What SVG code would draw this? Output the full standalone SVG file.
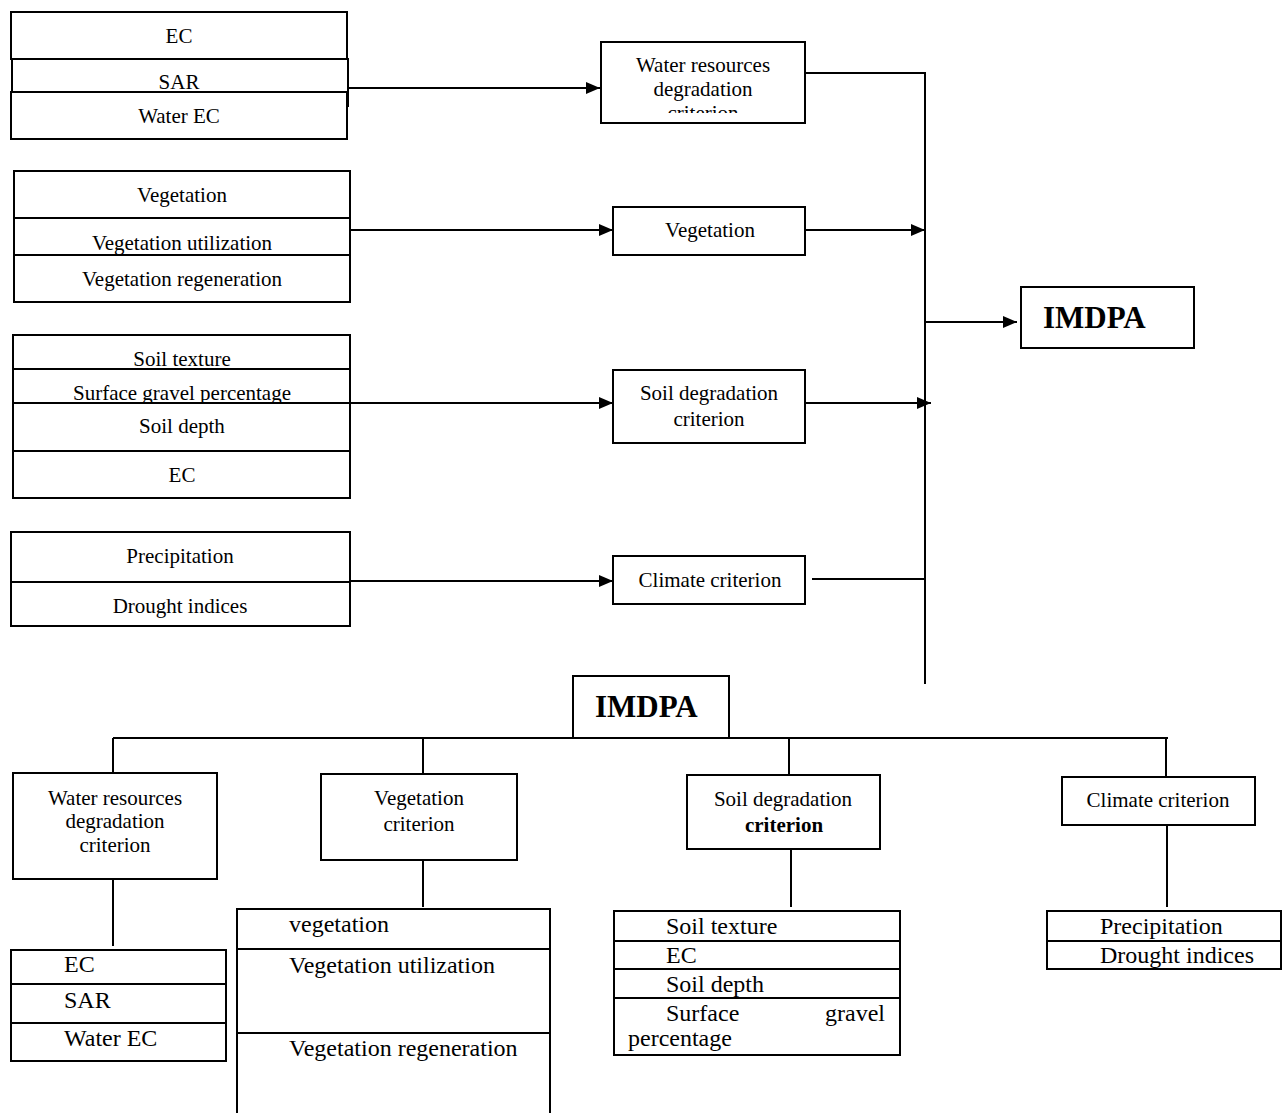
<svg xmlns="http://www.w3.org/2000/svg" width="1283" height="1113" viewBox="0 0 1283 1113">
<style>
text{font-family:"Liberation Serif","Times New Roman",serif;font-size:21px;fill:#000}
.c{text-anchor:middle}
.s{font-size:24px}
.b{font-weight:bold;font-size:31px}
rect{fill:#fff;stroke:#000;stroke-width:2}
.ln{fill:none;stroke:#000;stroke-width:2}
</style>
<defs>
<marker id="ah" markerUnits="userSpaceOnUse" markerWidth="14" markerHeight="14" viewBox="0 0 14 14" refX="14" refY="7" orient="auto">
<path d="M0,1 L14,7 L0,13 Z" fill="#000"/>
</marker>
<clipPath id="clipW"><rect x="601" y="42" width="204" height="71"/></clipPath>
</defs>

<g id="connectors">
<line class="ln" x1="348" y1="88" x2="600" y2="88" marker-end="url(#ah)"/>
<line class="ln" x1="350" y1="230" x2="613" y2="230" marker-end="url(#ah)"/>
<line class="ln" x1="350" y1="403" x2="613" y2="403" marker-end="url(#ah)"/>
<line class="ln" x1="350" y1="581" x2="613" y2="581" marker-end="url(#ah)"/>
<polyline class="ln" points="805,73 925,73 925,684"/>
<line class="ln" x1="805" y1="230" x2="925" y2="230" marker-end="url(#ah)"/>
<line class="ln" x1="806" y1="403" x2="931" y2="403" marker-end="url(#ah)"/>
<line class="ln" x1="812" y1="579" x2="925" y2="579"/>
<line class="ln" x1="925" y1="322" x2="1017" y2="322" marker-end="url(#ah)"/>
<line class="ln" x1="113" y1="738" x2="1168" y2="738"/>
<line class="ln" x1="113" y1="738" x2="113" y2="773"/>
<line class="ln" x1="423" y1="738" x2="423" y2="774"/>
<line class="ln" x1="789" y1="738" x2="789" y2="775"/>
<line class="ln" x1="1166" y1="738" x2="1166" y2="777"/>
<line class="ln" x1="113" y1="879" x2="113" y2="946"/>
<line class="ln" x1="423" y1="860" x2="423" y2="907"/>
<line class="ln" x1="791" y1="849" x2="791" y2="907"/>
<line class="ln" x1="1167" y1="825" x2="1167" y2="907"/>
</g>

<g id="water-indicators">
<rect x="11" y="12" width="336" height="47"/>
<text class="c" x="179" y="43">EC</text>
<rect x="12" y="59" width="336" height="47"/>
<text class="c" x="179" y="89">SAR</text>
<rect x="11" y="92" width="336" height="47"/>
<text class="c" x="179" y="123">Water EC</text>
</g>

<g id="vegetation-indicators">
<rect x="14" y="171" width="336" height="47"/>
<text class="c" x="182" y="202">Vegetation</text>
<rect x="14" y="218" width="336" height="47"/>
<text class="c" x="182" y="250">Vegetation utilization</text>
<rect x="14" y="255" width="336" height="47"/>
<text class="c" x="182" y="286">Vegetation regeneration</text>
</g>

<g id="soil-indicators">
<rect x="13" y="335" width="337" height="47"/>
<text class="c" x="182" y="366">Soil texture</text>
<rect x="13" y="369" width="337" height="47"/>
<text class="c" x="182" y="400">Surface gravel percentage</text>
<rect x="13" y="403" width="337" height="48"/>
<text class="c" x="182" y="433">Soil depth</text>
<rect x="13" y="451" width="337" height="47"/>
<text class="c" x="182" y="482">EC</text>
</g>

<g id="climate-indicators">
<rect x="11" y="532" width="339" height="50"/>
<text class="c" x="180" y="563">Precipitation</text>
<rect x="11" y="582" width="339" height="44"/>
<text class="c" x="180" y="613">Drought indices</text>
</g>

<g id="water-criterion">
<rect x="601" y="42" width="204" height="81"/>
<g clip-path="url(#clipW)">
<text class="c" x="703" y="72">Water resources</text>
<text class="c" x="703" y="96">degradation</text>
<text class="c" x="703" y="120">criterion</text>
</g>
</g>

<g id="vegetation-criterion">
<rect x="613" y="207" width="192" height="48"/>
<text class="c" x="710" y="237">Vegetation</text>
</g>

<g id="soil-criterion">
<rect x="613" y="370" width="192" height="73"/>
<text class="c" x="709" y="400">Soil degradation</text>
<text class="c" x="709" y="426">criterion</text>
</g>

<g id="climate-criterion">
<rect x="613" y="556" width="192" height="48"/>
<text class="c" x="710" y="587">Climate criterion</text>
</g>

<g id="imdpa-top">
<rect x="1021" y="287" width="173" height="61"/>
<text class="b" x="1043" y="328">IMDPA</text>
</g>

<g id="imdpa-bottom">
<rect x="573" y="676" width="156" height="62"/>
<text class="b" x="595" y="717">IMDPA</text>
</g>

<g id="b-water-criterion">
<rect x="13" y="773" width="204" height="106"/>
<text class="c" x="115" y="805">Water resources</text>
<text class="c" x="115" y="828">degradation</text>
<text class="c" x="115" y="852">criterion</text>
</g>

<g id="b-vegetation-criterion">
<rect x="321" y="774" width="196" height="86"/>
<text class="c" x="419" y="805">Vegetation</text>
<text class="c" x="419" y="831">criterion</text>
</g>

<g id="b-soil-criterion">
<rect x="687" y="775" width="193" height="74"/>
<text class="c" x="783" y="806">Soil degradation</text>
<text class="c" x="784" y="832" font-weight="bold">criterion</text>
</g>

<g id="b-climate-criterion">
<rect x="1062" y="777" width="193" height="48"/>
<text class="c" x="1158" y="807">Climate criterion</text>
</g>

<g id="b-water-indicators">
<rect x="11" y="950" width="215" height="34"/>
<rect x="11" y="984" width="215" height="39"/>
<rect x="11" y="1023" width="215" height="38"/>
<text class="s" x="64" y="972">EC</text>
<text class="s" x="64" y="1008">SAR</text>
<text class="s" x="64" y="1046">Water EC</text>
</g>

<g id="b-vegetation-indicators">
<path class="ln" d="M237,1114 V909 H550 V1114 M237,949 H550 M237,1033 H550"/>
<text class="s" x="289" y="932">vegetation</text>
<text class="s" x="289" y="973">Vegetation utilization</text>
<text class="s" x="289" y="1056">Vegetation regeneration</text>
</g>

<g id="b-soil-indicators">
<rect x="614" y="911" width="286" height="144"/>
<path class="ln" d="M614,941 H900 M614,969 H900 M614,998 H900"/>
<text class="s" x="666" y="934">Soil texture</text>
<text class="s" x="666" y="963">EC</text>
<text class="s" x="666" y="992">Soil depth</text>
<text class="s" x="666" y="1021">Surface</text>
<text class="s" x="885" y="1021" text-anchor="end">gravel</text>
<text class="s" x="628" y="1046">percentage</text>
</g>

<g id="b-climate-indicators">
<rect x="1047" y="911" width="234" height="58"/>
<path class="ln" d="M1047,941 H1281"/>
<text class="s" x="1100" y="934">Precipitation</text>
<text class="s" x="1100" y="963">Drought indices</text>
</g>
</svg>
